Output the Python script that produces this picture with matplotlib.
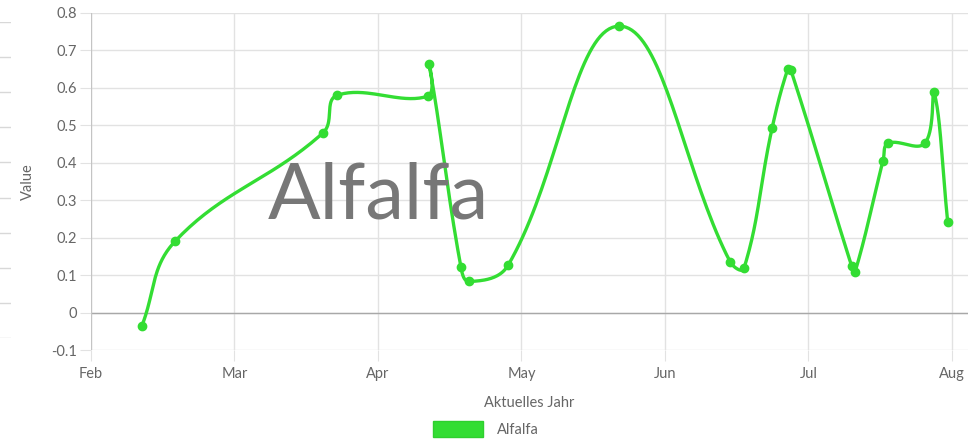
import numpy as np
import matplotlib
matplotlib.use("Agg")
import matplotlib.pyplot as plt
from matplotlib.patches import Patch

# ---- data (x in months since Feb 1, each month = 1 unit) ----
month_labels = ["Feb", "Mar", "Apr", "May", "Jun", "Jul", "Aug"]
x_pos = [0.355, 0.585, 1.617, 1.714, 2.348, 2.355, 2.578, 2.634, 2.906, 3.68,
         4.453, 4.55, 4.746, 4.855, 4.877, 5.30, 5.324, 5.52, 5.555, 5.81, 5.875, 5.97]
values = [-0.035, 0.19, 0.48, 0.58, 0.578, 0.663, 0.121, 0.083, 0.126, 0.765,
          0.136, 0.118, 0.492, 0.65, 0.648, 0.125, 0.108, 0.406, 0.452, 0.452, 0.588, 0.243]
series_name = "Alfalfa"
y_ticks = [-0.1, 0, 0.1, 0.2, 0.3, 0.4, 0.5, 0.6, 0.7, 0.8]

plt.rcParams["font.family"] = ["Lato", "DejaVu Sans"]

GREEN = "#33dd33"
TXT = "#666666"
GRID = "#e2e2e2"

W, H = 973, 442
fig = plt.figure(figsize=(W / 100, H / 100), dpi=100)
ax_l, ax_r, ax_t, ax_b = 91, 968, 13, 350
ax = fig.add_axes([ax_l / W, 1 - ax_b / H, (ax_r - ax_l) / W, (ax_b - ax_t) / H])

xmax = (ax_r - ax_l) / 143.5
ax.set_xlim(0, xmax)
ax.set_ylim(-0.1, 0.8)

# Chart.js-style spline (tension 0.4) computed in pixel space
sx = 143.5
sy = (ax_b - ax_t) / 0.9
px = np.array(x_pos) * sx
py = np.array(values) * sy
n = len(px)
tension = 0.4
cps = []
for i in range(n):
    pv = (px[max(i - 1, 0)], py[max(i - 1, 0)])
    cu = (px[i], py[i])
    nx = (px[min(i + 1, n - 1)], py[min(i + 1, n - 1)])
    d01 = np.hypot(cu[0] - pv[0], cu[1] - pv[1])
    d12 = np.hypot(nx[0] - cu[0], nx[1] - cu[1])
    tot = d01 + d12
    s01 = d01 / tot if tot else 0
    s12 = d12 / tot if tot else 0
    fa = tension * s01
    fb = tension * s12
    c1 = (cu[0] - fa * (nx[0] - pv[0]), cu[1] - fa * (nx[1] - pv[1]))
    c2 = (cu[0] + fb * (nx[0] - pv[0]), cu[1] + fb * (nx[1] - pv[1]))
    cps.append((c1, c2))
cx, cy = [], []
t = np.linspace(0, 1, 40)
for i in range(n - 1):
    p0 = np.array([px[i], py[i]])
    p1 = np.array(cps[i][1])
    p2 = np.array(cps[i + 1][0])
    p3 = np.array([px[i + 1], py[i + 1]])
    b = ((1 - t) ** 3)[:, None] * p0 + (3 * (1 - t) ** 2 * t)[:, None] * p1 \
        + (3 * (1 - t) * t ** 2)[:, None] * p2 + (t ** 3)[:, None] * p3
    cx.extend(b[:, 0])
    cy.extend(b[:, 1])
cx = np.array(cx) / sx
cy = np.array(cy) / sy

# grid
ax.set_yticks(y_ticks)
ax.set_yticklabels(["-0.1", "0", "0.1", "0.2", "0.3", "0.4", "0.5", "0.6", "0.7", "0.8"])
ax.set_xticks(range(len(month_labels)))
ax.set_xticklabels(month_labels)
ax.grid(True, color=GRID, linewidth=1.0, zorder=0)
ax.axhline(0, color="#a8a8a8", linewidth=1.0, zorder=2)
ax.axvline(0, color="#c4c4c4", linewidth=1.6, zorder=2)
for s in ax.spines.values():
    s.set_visible(False)
ax.tick_params(axis="both", length=8, color=GRID, labelcolor=TXT, labelsize=10.5, pad=2)
ax.tick_params(axis="x", pad=4)

ax.plot(cx, cy, color=GREEN, linewidth=2.4, zorder=4, solid_capstyle="round")
ax.plot(x_pos, values, "o", color=GREEN, markersize=6, zorder=5)

ax.set_ylabel("Value", color=TXT, fontsize=10.5, labelpad=12)
ax.set_xlabel("Aktuelles Jahr", color=TXT, fontsize=10.5, labelpad=11)

fig.text(378 / W, 1 - 197 / H, series_name, fontsize=56, color="#777777",
         ha="center", va="center", zorder=3)

leg = fig.legend(handles=[Patch(facecolor=GREEN, edgecolor="#2fcf2f", label=series_name)],
                 loc="center", bbox_to_anchor=(486 / W, 1 - 429 / H), frameon=False,
                 handlelength=3.4, handleheight=1.3, fontsize=10.5, labelcolor=TXT,
                 handletextpad=1.0)

# faint remnants at the left edge
axl = fig.add_axes([0, 1 - 338 / H, 11 / W, (338 - 22) / H])
axl.set_ylim(0, 9)
axl.set_xlim(0, 1)
for k in range(10):
    axl.axhline(k, color="#d8d8d8", linewidth=1)
axl.axis("off")

fig.savefig("out.png", dpi=100)
